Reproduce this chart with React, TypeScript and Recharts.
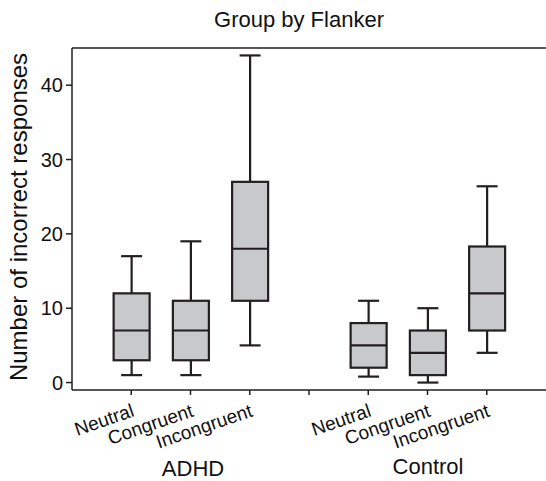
import { ComposedChart, Bar, XAxis, YAxis, ReferenceLine } from "recharts";

const groups = ["ADHD", "Control"];
const conditions = ["Neutral", "Congruent", "Incongruent"];

// ADHD Neutral, Congruent, Incongruent, then Control Neutral, Congruent, Incongruent
const mins = [1, 1, 5, 0.8, 0, 4];
const q1s = [3, 3, 11, 2, 1, 7];
const medians = [7, 7, 18, 5, 4, 12];
const q3s = [12, 11, 27, 8, 7, 18.3];
const maxs = [17, 19, 44, 11, 10, 26.4];

const yTicks = [0, 10, 20, 30, 40];

const INK = "#231f20";
const FILL = "#c8c9cb";
const FONT = "'Liberation Sans', Arial, Helvetica, sans-serif";

const rows = groups.flatMap((g, gi) =>
  conditions.map((c, ci) => {
    const i = gi * conditions.length + ci;
    return {
      group: g,
      condition: c,
      pos: gi * (conditions.length + 1) + ci + 1,
      min: mins[i],
      q1: q1s[i],
      median: medians[i],
      q3: q3s[i],
      max: maxs[i],
    };
  })
);

const tickLabel = (pos: number) => {
  const r = rows.find((d) => d.pos === pos);
  return r ? r.condition : "";
};

function BoxShape(props: any) {
  const { x, y, width, height, payload } = props;
  if (!payload) return null;
  const top = Math.min(y, y + height);
  const bottom = Math.max(y, y + height);
  const { min, q1, median, q3, max } = payload;
  const px = (v: number) =>
    max === min ? bottom : bottom - ((v - min) / (max - min)) * (bottom - top);
  const cx = x + width / 2;
  const cap = 10.5;
  return (
    <g stroke={INK} strokeWidth={2.2}>
      <line x1={cx} x2={cx} y1={px(max)} y2={px(q3)} />
      <line x1={cx} x2={cx} y1={px(q1)} y2={px(min)} />
      <line x1={cx - cap} x2={cx + cap} y1={px(max)} y2={px(max)} />
      <line x1={cx - cap} x2={cx + cap} y1={px(min)} y2={px(min)} />
      <rect x={x} y={px(q3)} width={width} height={px(q1) - px(q3)} fill={FILL} />
      <line x1={x} x2={x + width} y1={px(median)} y2={px(median)} />
    </g>
  );
}

function CatTick(props: any) {
  const { x, y, payload } = props;
  const ax = x + 4;
  const ay = y + 21;
  return (
    <text
      x={ax}
      y={ay}
      transform={`rotate(-19, ${ax}, ${ay})`}
      textAnchor="end"
      fontSize={19}
      fontFamily={FONT}
      fill="#111"
    >
      {tickLabel(payload.value)}
    </text>
  );
}

export default function App() {
  return (
    <div style={{ position: "absolute", left: 0, top: 0, width: 546, height: 481, background: "#fff" }}>
      <ComposedChart
        width={546}
        height={481}
        data={rows}
        margin={{ top: 48, right: 0, bottom: 61, left: 0 }}
      >
        <XAxis
          type="number"
          dataKey="pos"
          domain={[0, 8]}
          ticks={[1, 2, 3, 4, 5, 6, 7]}
          interval={0}
          height={30}
          tickSize={5}
          tickMargin={0}
          tick={(p: any) => <CatTick {...p} />}
          axisLine={{ stroke: INK, strokeWidth: 1.5 }}
          tickLine={{ stroke: INK, strokeWidth: 1.5 }}
        />
        <YAxis
          type="number"
          domain={[-1, 45]}
          ticks={yTicks}
          width={72}
          tickSize={6}
          tickMargin={3}
          axisLine={{ stroke: INK, strokeWidth: 1.5 }}
          tickLine={{ stroke: INK, strokeWidth: 1.5 }}
          tick={{ fontSize: 20, fill: "#111", fontFamily: FONT }}
        />
        <ReferenceLine y={45} stroke={INK} strokeWidth={1.5} />
        <Bar
          dataKey={(d: any) => [d.min, d.max]}
          barSize={36}
          shape={(p: any) => <BoxShape {...p} />}
          isAnimationActive={false}
        />
      </ComposedChart>
      <svg
        width={546}
        height={481}
        style={{ position: "absolute", left: 0, top: 0, pointerEvents: "none" }}
        fontFamily={FONT}
        fill="#111"
      >
        <text x={299} y={27} textAnchor="middle" fontSize={22}>
          Group by Flanker
        </text>
        <text x={27} y={217} textAnchor="middle" fontSize={24} transform="rotate(-90, 27, 217)">
          Number of incorrect responses
        </text>
        <text x={193} y={476} textAnchor="middle" fontSize={22}>
          {groups[0]}
        </text>
        <text x={428} y={474} textAnchor="middle" fontSize={22}>
          {groups[1]}
        </text>
      </svg>
    </div>
  );
}
